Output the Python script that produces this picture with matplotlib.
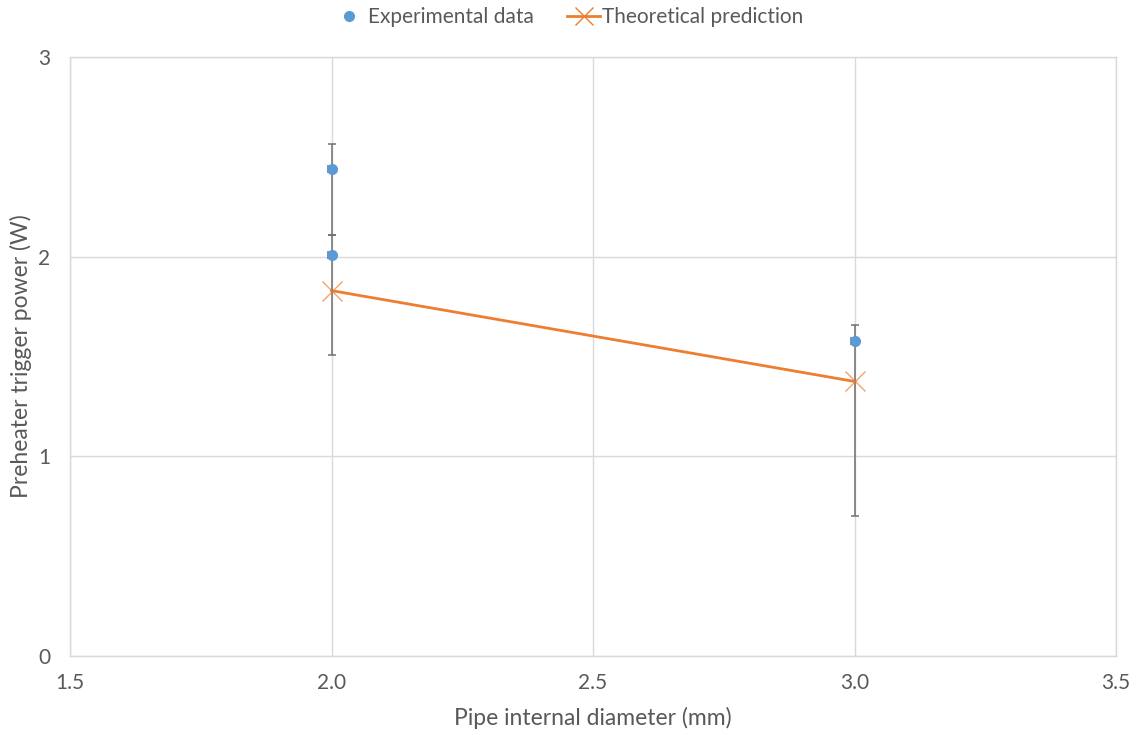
import matplotlib
matplotlib.use("Agg")
import matplotlib.pyplot as plt
from matplotlib.lines import Line2D

plt.rcParams['font.family'] = ['Lato', 'DejaVu Sans']

# Measured trigger power for each pipe diameter
exp_diameter = [2.0, 2.0, 3.0]
exp_power = [2.44, 2.01, 1.58]
exp_err_low = [0.33, 0.50, 0.88]
exp_err_high = [0.125, 0.10, 0.08]
exp_xerr = [0.006, 0.006, 0.006]

# Model prediction
theory_diameter = [2.0, 3.0]
theory_power = [1.83, 1.375]

x_ticks = [1.5, 2.0, 2.5, 3.0, 3.5]
y_ticks = [0, 1, 2, 3]

text_color = '#595959'
grid_color = '#d9d9d9'
blue = '#5b9bd5'
orange = '#ed7d31'

fig = plt.figure(figsize=(11.38, 7.35), dpi=100)
ax = fig.add_axes([70 / 1138, 1 - 656 / 735, (1116 - 70) / 1138, (656 - 57) / 735])

ax.errorbar(exp_diameter, exp_power, yerr=[exp_err_low, exp_err_high], xerr=exp_xerr,
            fmt='none', ecolor='#707070', elinewidth=1.1, capsize=3.2, capthick=1.1, zorder=3)
ax.plot(exp_diameter, exp_power, 'o', color=blue, markersize=7, zorder=4)
ax.plot(theory_diameter, theory_power, '-', color=orange, linewidth=2, zorder=2)
ax.plot(theory_diameter, theory_power, 'x', color=orange, markersize=15, markeredgewidth=1,
        alpha=0.7, zorder=5)

ax.set_xlim(1.5, 3.5)
ax.set_ylim(0, 3)
ax.set_xticks(x_ticks)
ax.set_xticklabels([f'{v:.1f}' for v in x_ticks])
ax.set_yticks(y_ticks)
ax.set_yticklabels([str(v) for v in y_ticks])
ax.grid(True, color=grid_color, linewidth=1)
ax.set_axisbelow(True)
for s in ax.spines.values():
    s.set_color(grid_color)
    s.set_linewidth(1)
ax.tick_params(length=0, labelsize=15, colors=text_color, pad=12)
ax.tick_params(axis='y', pad=14)

ax.set_xlabel('Pipe internal diameter (mm)', fontsize=16.5, color=text_color, labelpad=10)
ax.set_ylabel('Preheater trigger power (W)', fontsize=16.5, color=text_color)
ax.yaxis.set_label_coords(-38 / 1046, 0.5)

handles = [
    Line2D([], [], marker='o', linestyle='none', color=blue, markersize=7),
    Line2D([], [], marker='x', linestyle='-', color=orange, markersize=13, linewidth=2,
           markeredgewidth=1),
]
fig.legend(handles, ['Experimental data', 'Theoretical prediction'], loc='center',
           bbox_to_anchor=(0.499, 1 - 17 / 735), ncol=2, frameon=False, fontsize=15,
           labelcolor=text_color, handlelength=1.6, handletextpad=0.1, columnspacing=1.6)

fig.savefig('out.png', dpi=100)
